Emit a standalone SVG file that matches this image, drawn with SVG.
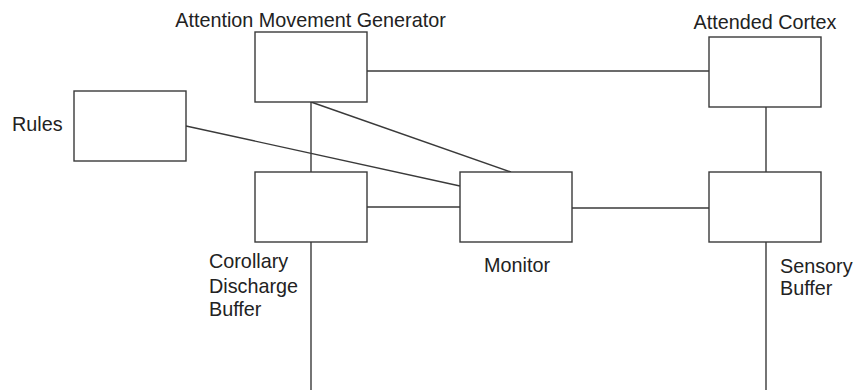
<svg xmlns="http://www.w3.org/2000/svg" width="863" height="390" viewBox="0 0 863 390">
<style>
.box{fill:#fff;stroke:#3a3a3a;stroke-width:1.4}
.ln{stroke:#3a3a3a;stroke-width:1.4;fill:none}
text{font-family:"Liberation Sans",Arial,sans-serif;font-size:19.8px;fill:#222}
</style>
<rect width="863" height="390" fill="#fff"/>
<g id="connectors">
<line class="ln" x1="367" y1="71" x2="709" y2="71"/>
<line class="ln" x1="311" y1="102" x2="311" y2="172"/>
<line class="ln" x1="311" y1="102" x2="511" y2="172"/>
<line class="ln" x1="186" y1="126" x2="460" y2="186"/>
<line class="ln" x1="367" y1="207" x2="460" y2="207"/>
<line class="ln" x1="572" y1="208" x2="709" y2="208"/>
<line class="ln" x1="766" y1="107" x2="766" y2="172"/>
<line class="ln" x1="311" y1="242" x2="311" y2="390"/>
<line class="ln" x1="766" y1="242" x2="766" y2="390"/>
</g>
<g id="amg"><rect class="box" x="255" y="32" width="112" height="70"/><text x="310.5" y="27" text-anchor="middle">Attention Movement Generator</text></g>
<g id="cortex"><rect class="box" x="709" y="37" width="112" height="70"/><text x="765" y="29" text-anchor="middle">Attended Cortex</text></g>
<g id="rules"><rect class="box" x="74" y="91" width="112" height="70"/><text x="12" y="131">Rules</text></g>
<g id="cdb"><rect class="box" x="255" y="172" width="112" height="70"/><text x="209" y="268">Corollary</text><text x="209" y="293">Discharge</text><text x="209" y="316">Buffer</text></g>
<g id="monitor"><rect class="box" x="460" y="172" width="112" height="70"/><text x="517" y="272" text-anchor="middle">Monitor</text></g>
<g id="sensory"><rect class="box" x="709" y="172" width="112" height="70"/><text x="780" y="273">Sensory</text><text x="780" y="295">Buffer</text></g>
</svg>
